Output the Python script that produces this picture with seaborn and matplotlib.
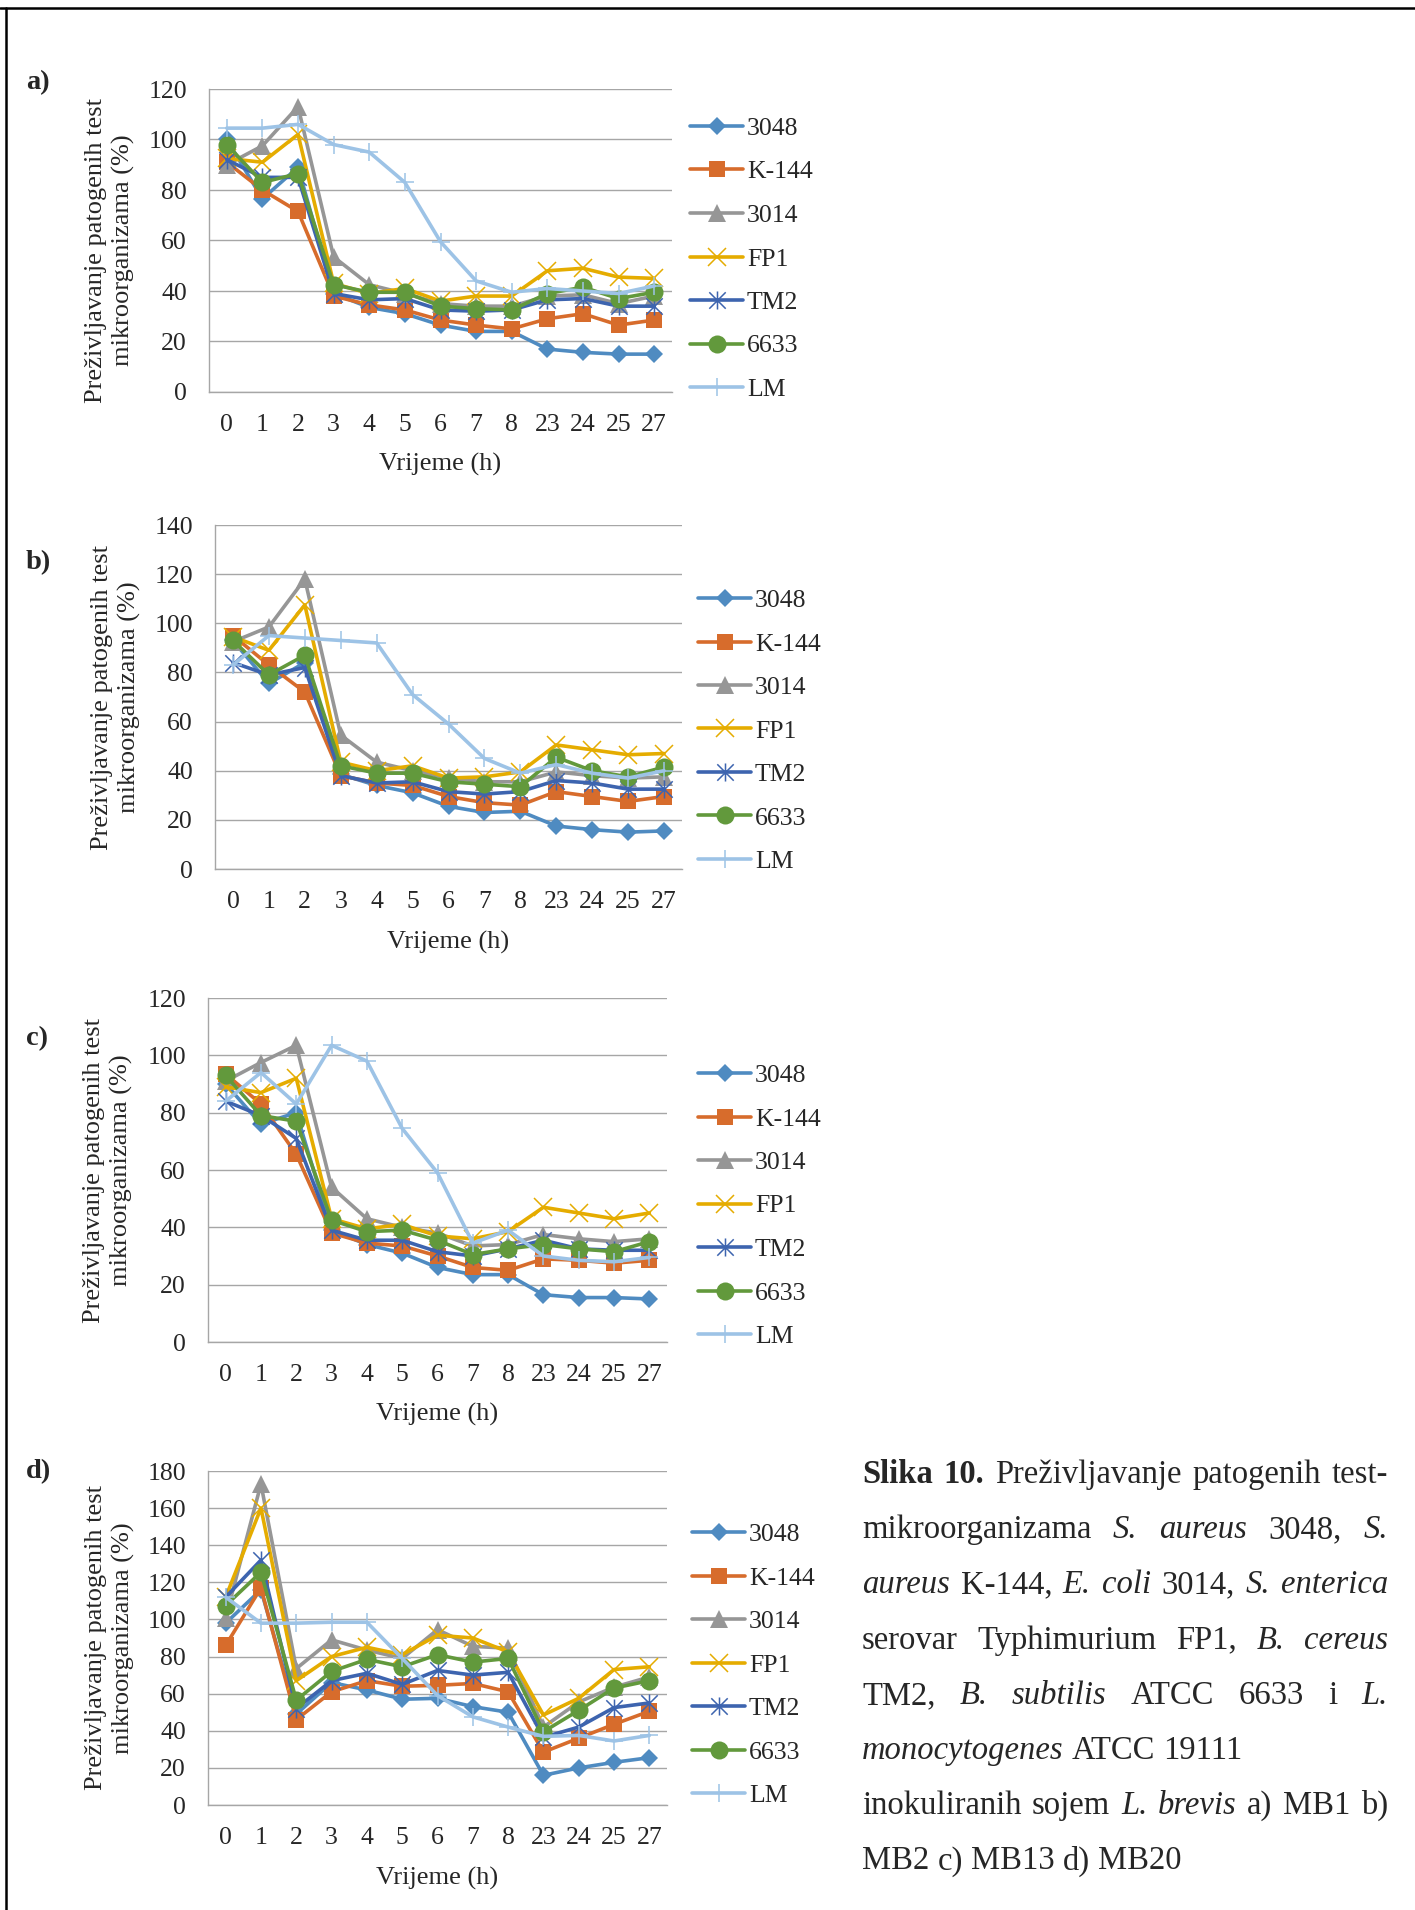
import numpy as np
import pandas as pd
import matplotlib
matplotlib.use("Agg")
import matplotlib.pyplot as plt
import seaborn as sns
from matplotlib.path import Path
from matplotlib.lines import Line2D
from matplotlib.ticker import FixedLocator

# ---------------- data ----------------
hours = ["0", "1", "2", "3", "4", "5", "6", "7", "8", "23", "24", "25", "27"]
strains = ["3048", "K-144", "3014", "FP1", "TM2", "6633", "LM"]
panel_labels = ["a)", "b)", "c)", "d)"]
y_label = "Preživljavanje patogenih test\nmikroorganizama (%)"
x_label = "Vrijeme (h)"

a_3048 = [100, 76.5, 89, 39, 33.5, 31, 26.5, 24, 24, 17, 15.7, 15, 15]
a_K144 = [91, 80, 71.5, 38, 34.5, 32.5, 28.5, 26.5, 25, 29, 31, 26.5, 28.5]
a_3014 = [90, 97.5, 113, 53.5, 42.5, 39, 35, 34, 34, 38, 38.5, 35, 38]
a_FP1 = [92.5, 91, 102, 43, 39, 41, 36, 38, 38, 48, 49, 45.5, 45]
a_TM2 = [92, 85, 85, 39, 36.5, 37, 32.5, 32, 32.5, 36.5, 37, 34, 34]
a_6633 = [98, 83, 86.5, 42.5, 39.5, 39.5, 34, 33, 32.5, 39, 41.5, 37, 39.5]
a_LM = [104.5, 104.5, 106, 98, 95, 83, 59.5, 44, 39.5, 41, 40, 39, 42]

b_3048 = [93, 75.5, 84, 38.5, 34, 31, 25.5, 23, 23.5, 17.5, 16, 15, 15.5]
b_K144 = [95, 83, 72, 38, 35, 34, 29.5, 27, 26, 31.5, 29.5, 27.5, 29.5]
b_3014 = [92.5, 98.5, 118, 54.5, 43.5, 40, 37, 35.5, 35.5, 39.5, 38, 37, 37.5]
b_FP1 = [94.5, 89, 107.5, 43.5, 40, 42, 37, 37.5, 39.5, 50.5, 48.5, 46.5, 47]
b_TM2 = [84, 79, 82, 38, 35, 35.5, 31.5, 30.5, 31.5, 36, 35, 32.5, 32.5]
b_6633 = [93, 79, 87, 42, 39, 39, 35.5, 34.5, 33.5, 45.5, 40, 37.5, 41.5]
b_LM = [83, 95, 94, 93, 92, 71, 59, 45, 39, 42.5, 39, 37, 40]

c_3048 = [90, 76, 80, 39, 34, 31, 26, 23.5, 23.5, 16.5, 15.5, 15.5, 15]
c_K144 = [93.5, 83, 65.5, 38, 34.5, 33.5, 30, 26, 25, 29, 28.5, 27.5, 28.5]
c_3014 = [91, 97.5, 103.5, 54, 43, 40, 38, 33.5, 34, 37.5, 36, 35, 36]
c_FP1 = [89, 87, 92, 43, 39.5, 41, 37, 36, 38.5, 47, 45, 43, 45]
c_TM2 = [84, 79, 71, 39, 35.5, 35.5, 31.5, 30, 32.5, 35.5, 32.5, 32, 32]
c_6633 = [93, 79, 77, 42.5, 38.5, 39, 35.5, 30.5, 32.5, 34, 32.5, 31.5, 35]
c_LM = [84, 94, 83, 103.5, 98, 74.5, 59, 34.5, 39, 30, 28.5, 28, 29.5]

d_3048 = [98, 116, 49, 66, 62, 57, 57.5, 53, 50, 16, 20, 23, 25.5]
d_K144 = [86, 117, 46, 61, 67, 64, 64.5, 65.5, 61, 28.5, 36, 43.5, 50.5]
d_3014 = [101, 173, 73.5, 89, 83.5, 79, 94.5, 85.5, 84.5, 42, 55.5, 63.5, 69]
d_FP1 = [112, 160, 67, 80, 85, 81, 91.5, 90, 82.5, 48.5, 57.5, 73, 74.5]
d_TM2 = [112, 132, 52, 67, 71, 65, 72.5, 70, 71.5, 36.5, 42, 52.5, 55]
d_6633 = [107.5, 125.5, 56.5, 72, 78.5, 74.5, 81, 77, 79, 39.5, 51, 63, 67]
d_LM = [112, 98, 98, 98.5, 98.5, 79, 59, 47.5, 42, 37, 37.5, 34.5, 37.5]

y_max = [120, 140, 120, 180]

caption_lines = [
    [("Slika", "b"), ("10.", "b"), ("Preživljavanje", "n"), ("patogenih", "n"), ("test-", "n")],
    [("mikroorganizama", "n"), ("S.", "i"), ("aureus", "i"), ("3048,", "n"), ("S.", "i")],
    [("aureus", "i"), ("K-144,", "n"), ("E.", "i"), ("coli", "i"), ("3014,", "n"), ("S.", "i"), ("enterica", "i")],
    [("serovar", "n"), ("Typhimurium", "n"), ("FP1,", "n"), ("B.", "i"), ("cereus", "i")],
    [("TM2,", "n"), ("B.", "i"), ("subtilis", "i"), ("ATCC", "n"), ("6633", "n"), ("i", "n"), ("L.", "i")],
    [("monocytogenes", "i"), ("ATCC", "n"), ("19111", "n")],
    [("inokuliranih", "n"), ("sojem", "n"), ("L.", "i"), ("brevis", "i"), ("a)", "n"), ("MB1", "n"), ("b)", "n")],
    [("MB2", "n"), ("c)", "n"), ("MB13", "n"), ("d)", "n"), ("MB20", "n")],
]
caption_justify = [True, True, True, True, True, False, True, False]

panel_data = [
    [a_3048, a_K144, a_3014, a_FP1, a_TM2, a_6633, a_LM],
    [b_3048, b_K144, b_3014, b_FP1, b_TM2, b_6633, b_LM],
    [c_3048, c_K144, c_3014, c_FP1, c_TM2, c_6633, c_LM],
    [d_3048, d_K144, d_3014, d_FP1, d_TM2, d_6633, d_LM],
]

# ---------------- style ----------------
sns.set_style("white")
plt.rcParams["font.family"] = ["Liberation Serif", "DejaVu Serif"]

colors = ["#4F8BC1", "#D76C2C", "#969696", "#E5AC00", "#3D64AF", "#62993C", "#9DC3E6"]
star = Path([(-0.5, -0.5), (0.5, 0.5), (-0.5, 0.5), (0.5, -0.5), (0, -0.55), (0, 0.55)],
            [Path.MOVETO, Path.LINETO] * 3)
mk = [
    dict(marker="D", markersize=9.3, markeredgewidth=0),
    dict(marker="s", markersize=12, markeredgewidth=0),
    dict(marker="^", markersize=12.5, markeredgewidth=0),
    dict(marker="x", markersize=12.5, markeredgewidth=1.1),
    dict(marker=star, markersize=13, markeredgewidth=1.1, markerfacecolor="none"),
    dict(marker="o", markersize=13, markeredgewidth=0),
    dict(marker="+", markersize=13, markeredgewidth=1.1),
]
LW = 2.6
GRID = "#A6A6A6"
FS_TICK = 18.5
FS_LAB = 19
FS_LEG = 18.5

W, H = 1415, 1910
fig = plt.figure(figsize=(W / 100, H / 100), dpi=100)


def fx(px):
    return px / W


def fy(py):
    return 1 - py / H


# L, R, T, B, legend_x, legend_y0, ylabel_x, ylabel_y, xlabel_y, plabel_y
layout = [
    (209, 672, 89, 392, 690, 126, 110, 250, 464, 83),
    (215, 682, 525, 869, 698, 598, 116, 697, 942, 563),
    (208, 667, 998, 1342, 698, 1073, 108, 1170, 1414, 1039),
    (208, 667, 1471, 1805, 692, 1532, 110, 1638, 1878, 1472),
]

xpos = np.arange(len(hours))

for p, (L, R, T, B, lx, ly0, ylx, yly, xly, ply) in enumerate(layout):
    ax = fig.add_axes([fx(L), fy(B), (R - L) / W, (B - T) / H])
    for i, s in enumerate(strains):
        kw = dict(mk[i])
        kw.setdefault("markerfacecolor", colors[i])
        sns.lineplot(x=xpos, y=panel_data[p][i], ax=ax, color=colors[i], linewidth=LW,
                     markeredgecolor=colors[i], legend=False, zorder=3 + i, clip_on=False, **kw)
    ax.set_xlim(-0.5, len(hours) - 0.5)
    ax.set_ylim(0, y_max[p])
    ax.set_yticks(np.arange(0, y_max[p] + 1, 20))
    ax.set_xticks(xpos)
    ax.set_xticklabels(hours, fontsize=FS_TICK)
    ax.tick_params(axis="y", labelsize=FS_TICK, length=5.8, width=0.9, color=GRID, pad=10, direction="out")
    ax.xaxis.set_minor_locator(FixedLocator(np.arange(-0.5, len(hours), 1.0)))
    ax.tick_params(axis="x", which="major", length=0, pad=16)
    ax.tick_params(axis="x", which="minor", length=5.8, width=0.9, color=GRID, direction="out")
    ax.set_axisbelow(True)
    ax.grid(axis="y", color=GRID, linewidth=1.0)
    ax.grid(axis="x", visible=False)
    for sp in ["top", "right"]:
        ax.spines[sp].set_visible(False)
    for sp in ["left", "bottom"]:
        ax.spines[sp].set_color(GRID)
        ax.spines[sp].set_linewidth(1.0)
    ax.set_xlabel(x_label, fontsize=FS_LAB, va="center")
    ax.xaxis.set_label_coords(((L + R) / 2 - L) / (R - L), (B - xly) / (B - T))
    ax.set_ylabel(y_label, fontsize=FS_LAB, va="center", ha="center", linespacing=1.3)
    ax.yaxis.set_label_coords((ylx - L) / (R - L), (B - yly) / (B - T))

    fig.text(fx(26), fy(ply), panel_labels[p], fontsize=20.5, fontweight="bold", va="center", ha="left")

    # legend
    for i, s in enumerate(strains):
        y = ly0 + i * 43.5
        fig.add_artist(Line2D([fx(lx), fx(lx + 53)], [fy(y), fy(y)], transform=fig.transFigure,
                              color=colors[i], linewidth=LW, solid_capstyle="round"))
        kw = dict(mk[i])
        kw.setdefault("markerfacecolor", colors[i])
        fig.add_artist(Line2D([fx(lx + 26.5)], [fy(y)], transform=fig.transFigure,
                              color=colors[i], markeredgecolor=colors[i], linestyle="none", **kw))
        fig.text(fx(lx + 57), fy(y + 9), s, fontsize=FS_LEG, va="baseline", ha="left")

# frame lines
fig.add_artist(Line2D([0, 1], [fy(8), fy(8)], transform=fig.transFigure, color="black", linewidth=1.8))
fig.add_artist(Line2D([fx(6), fx(6)], [fy(8), 0], transform=fig.transFigure, color="black", linewidth=1.8))

# caption (justified)
renderer = fig.canvas.get_renderer()
CAP_FS = 23.5
cap_left, cap_right = 862, 1388
cap_base0, cap_pitch = 1483, 55.2


def tprops(style):
    return dict(fontsize=CAP_FS, fontweight="bold" if style == "b" else "normal",
                fontstyle="italic" if style == "i" else "normal")


def width_of(txt, style):
    t = fig.text(0, 0, txt, **tprops(style))
    w = t.get_window_extent(renderer).width
    t.remove()
    return w


space_w = width_of("x x", "n") - width_of("xx", "n")
for li, (tokens, just) in enumerate(zip(caption_lines, caption_justify)):
    widths = [width_of(t, s) for t, s in tokens]
    if just and len(tokens) > 1:
        gap = (cap_right - cap_left - sum(widths)) / (len(tokens) - 1)
    else:
        gap = space_w
    x = cap_left
    y = cap_base0 + li * cap_pitch
    for (t, s), w in zip(tokens, widths):
        fig.text(fx(x), fy(y), t, va="baseline", ha="left", **tprops(s))
        x += w + gap

fig.savefig("out.png", dpi=100)
